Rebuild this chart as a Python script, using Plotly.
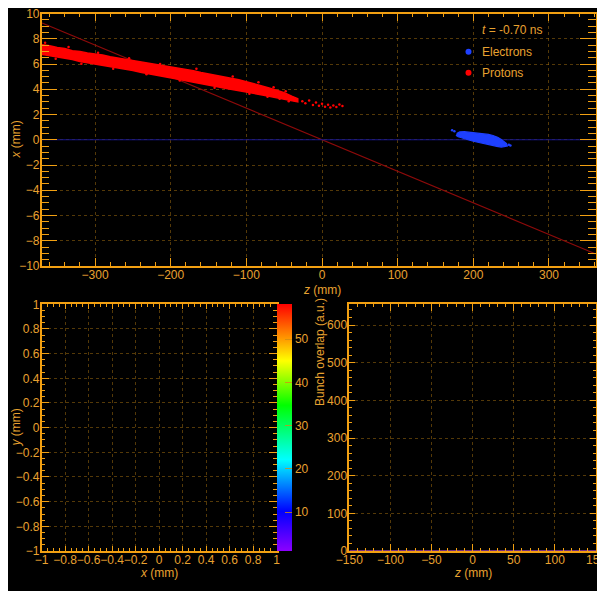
import plotly.graph_objects as go

# page is drawn with an 8 px body margin, so the figure is sized/offset for it
OFF = 8
FW, FH = 597, 583
FONT = "Liberation Sans, Arial, sans-serif"
AX = "#F2A012"
TXT = "#E8A230"
GRID = "rgba(200,135,20,0.42)"

# ---------------- top panel data (z in mm, x in mm) ----------------
proton_upper_z = [-372, -360, -350, -340, -330, -320, -310, -300, -290, -280, -270, -260, -250, -240,
                  -230, -220, -210, -200, -190, -180, -170, -160, -150, -140, -130, -120, -110, -100,
                  -90, -80, -70, -60, -50, -40, -32]
proton_upper_x = [7.55, 7.45, 7.30, 7.22, 7.05, 7.00, 6.88, 6.80, 6.72, 6.58, 6.48, 6.36, 6.30, 6.18,
                  6.05, 5.95, 5.86, 5.76, 5.66, 5.55, 5.46, 5.33, 5.22, 5.12, 5.00, 4.88, 4.76, 4.60,
                  4.45, 4.30, 4.10, 3.92, 3.72, 3.45, 3.25]
proton_lower_z = [-372, -360, -350, -340, -330, -320, -310, -300, -290, -280, -270, -260, -250, -240,
                  -230, -220, -210, -200, -190, -180, -170, -160, -150, -140, -130, -120, -110, -100,
                  -90, -80, -70, -60, -50, -40, -32]
proton_lower_x = [6.78, 6.65, 6.55, 6.45, 6.35, 6.20, 6.10, 5.95, 5.88, 5.75, 5.68, 5.58, 5.48, 5.35,
                  5.25, 5.12, 5.02, 4.90, 4.80, 4.68, 4.56, 4.45, 4.35, 4.22, 4.10, 3.98, 3.86, 3.76,
                  3.66, 3.55, 3.45, 3.32, 3.20, 3.08, 3.00]
proton_stray_z = [-366, -352, -335, -318, -296, -276, -255, -232, -214, -188, -166, -142, -118, -96,
                  -84, -72, -64, -56, -48, -44, -26, -22, -17, -12, -8, -4, 0, 4, 8, 11, 15, 19, 23, 27]
proton_stray_x = [7.68, 6.42, 7.35, 6.02, 6.90, 5.62, 6.45, 5.18, 6.00, 4.70, 5.62, 4.12, 5.00, 3.65,
                  4.55, 3.40, 4.15, 3.25, 3.85, 3.05, 3.05, 2.90, 3.10, 2.75, 2.95, 2.70, 2.85, 2.62,
                  2.78, 2.55, 2.72, 2.60, 2.80, 2.68]

electron_z = [178, 182, 188, 195, 204, 213, 220, 226, 232, 237, 241, 244, 245, 241, 237, 231, 225,
              219, 213, 206, 200, 193, 186, 180, 177]
electron_x = [0.50, 0.62, 0.64, 0.60, 0.56, 0.50, 0.42, 0.34, 0.20, 0.02, -0.14, -0.30, -0.50,
              -0.56, -0.58, -0.52, -0.45, -0.38, -0.30, -0.22, -0.12, 0.00, 0.12, 0.24, 0.36]
electron_stray_z = [172, 175, 247, 249]
electron_stray_x = [0.76, 0.68, -0.40, -0.46]

proton_axis_z = [-370, 362]
proton_axis_x = [9.25, -9.05]
electron_axis_z = [-370, 362]
electron_axis_x = [0.0, 0.0]

time_label = "<i>t</i> = -0.70 ns"

# ---------------- bottom panels ----------------
overlap_z = [-150, -100, -50, 0, 50, 100, 150]
overlap_val = [0, 0, 0, 0, 0, 0, 0]

cb_min, cb_max = 1.0, 58.1
cb_ticks = [10, 20, 30, 40, 50]
rainbow = [[0.0, "#8C00FF"], [0.16, "#0000FF"], [0.37, "#00FFFF"], [0.59, "#00FF00"],
           [0.77, "#FFFF00"], [0.86, "#FF9900"], [1.0, "#FF0000"]]


def px_x(p):
    return (p - OFF) / FW


def px_y(p):
    return 1 - (p - OFF) / FH


fig = go.Figure()

# beam axes
fig.add_trace(go.Scatter(x=proton_axis_z, y=proton_axis_x, mode="lines",
                         line=dict(color="#8E0A0A", width=1.2), xaxis="x", yaxis="y", hoverinfo="skip"))
fig.add_trace(go.Scatter(x=electron_axis_z, y=electron_axis_x, mode="lines",
                         line=dict(color="#16168C", width=1.2), xaxis="x", yaxis="y", hoverinfo="skip"))
# proton bunch
fig.add_trace(go.Scatter(x=proton_upper_z + proton_lower_z[::-1],
                         y=proton_upper_x + proton_lower_x[::-1],
                         mode="lines", fill="toself", fillcolor="#FF0000",
                         line=dict(color="#FF0000", width=1.5), xaxis="x", yaxis="y"))
fig.add_trace(go.Scatter(x=proton_stray_z, y=proton_stray_x, mode="markers",
                         marker=dict(color="#FF0000", size=2.5), xaxis="x", yaxis="y"))
# electron bunch
fig.add_trace(go.Scatter(x=electron_z, y=electron_x, mode="lines", fill="toself",
                         fillcolor="#1E40FF", line=dict(color="#1E40FF", width=1.2),
                         xaxis="x", yaxis="y"))
fig.add_trace(go.Scatter(x=electron_stray_z, y=electron_stray_x, mode="markers",
                         marker=dict(color="#1E40FF", size=2.5), xaxis="x", yaxis="y"))

# empty transverse map with colour scale
fig.add_trace(go.Scatter(x=[None], y=[None], mode="markers", xaxis="x2", yaxis="y2",
                         marker=dict(color=[cb_min], cmin=cb_min, cmax=cb_max, colorscale=rainbow,
                                     showscale=True,
                                     colorbar=dict(x=px_x(277.3), xanchor="left", y=px_y(551),
                                                   yanchor="bottom", len=(551 - 304.3) / FH,
                                                   lenmode="fraction", thickness=14.7,
                                                   thicknessmode="pixels", outlinewidth=0,
                                                   xpad=0, ypad=0, ticks="inside", ticklen=7,
                                                   tickcolor="rgba(210,140,20,0.8)", tickwidth=1,
                                                   tickvals=cb_ticks,
                                                   tickfont=dict(family=FONT, size=12, color=TXT)))))

# bunch overlap curve
fig.add_trace(go.Scatter(x=overlap_z, y=overlap_val, mode="lines", xaxis="x3", yaxis="y3",
                         line=dict(color="#9A3FA8", width=1.5)))


def axis(domain, rng, dtick, minor_dtick, ticklen, minor_len, anchor, standoff):
    return dict(domain=domain, range=rng, anchor=anchor, dtick=dtick, tick0=0,
                showline=True, linecolor=AX, linewidth=1.5, mirror="ticks",
                ticks="inside", ticklen=ticklen, tickwidth=1, tickcolor=AX,
                showgrid=True, gridcolor=GRID, griddash="dot", gridwidth=1,
                zeroline=False, tickangle=0, automargin=False, ticklabelstandoff=standoff,
                ticklabeloverflow="allow",
                tickfont=dict(family=FONT, size=12, color=TXT),
                minor=dict(dtick=minor_dtick, ticks="inside", ticklen=minor_len, tickcolor=AX,
                           tickwidth=1, showgrid=False),
                fixedrange=True)


top_x = [px_x(41.7), px_x(595.5)]
top_y = [px_y(266), px_y(13.5)]
bl_x = [px_x(41.7), px_x(276.7)]
b_y = [px_y(551), px_y(304.3)]
br_x = [px_x(349.3), px_x(596)]

layout = dict(
    width=FW, height=FH, margin=dict(l=0, r=0, t=0, b=0, pad=0, autoexpand=False),
    paper_bgcolor="white", plot_bgcolor="black", showlegend=False,
    font=dict(family=FONT, size=12, color=TXT),
    xaxis=axis(top_x, [-370.5, 361.5], 100, 20, 8, 4, "y", -3),
    yaxis=axis(top_y, [-10, 10], 2, 0.5, 16, 8, "x", -2),
    xaxis2=axis(bl_x, [-1, 1], 0.2, 0.05, 5, 3, "y2", -3),
    yaxis2=axis(b_y, [-1, 1], 0.2, 0.05, 8, 4, "x2", -2),
    xaxis3=axis(br_x, [-150, 150], 50, 10, 7, 3, "y3", -3),
    yaxis3=axis(b_y, [0, 655], 100, 20, 6, 3, "x3", -2),
)
fig.update_layout(**layout)

# black canvas
fig.add_shape(type="rect", xref="paper", yref="paper", x0=0, x1=px_x(602),
              y0=px_y(595), y1=1, fillcolor="black", line=dict(width=0), layer="below")

annos = [
    dict(text="<i>z</i> (mm)", x=px_x(321.7), y=px_y(290), textangle=0),
    dict(text="<i>x</i> (mm)", x=px_x(15), y=px_y(139.5), textangle=-90),
    dict(text="<i>x</i> (mm)", x=px_x(159.2), y=px_y(573), textangle=0),
    dict(text="<i>y</i> (mm)", x=px_x(15), y=px_y(427.5), textangle=-90),
    dict(text="<i>z</i> (mm)", x=px_x(472.6), y=px_y(573), textangle=0),
    dict(text="Bunch overlap (a.u.)", x=px_x(320), y=px_y(352), textangle=-90),
]
for a in annos:
    fig.add_annotation(xref="paper", yref="paper", xanchor="center", yanchor="middle",
                       showarrow=False, font=dict(family=FONT, size=12, color=TXT), **a)

# legend block
fig.add_annotation(xref="paper", yref="paper", x=px_x(480), y=px_y(30), xanchor="left",
                   yanchor="middle", showarrow=False, text=time_label,
                   font=dict(family=FONT, size=12, color=TXT))
for label, colr, ypix in [("Electrons", "#1E40FF", 51.7), ("Protons", "#FF0000", 72.7)]:
    fig.add_annotation(xref="paper", yref="paper", x=px_x(480), y=px_y(ypix), xanchor="left",
                       yanchor="middle", showarrow=False, text=label,
                       font=dict(family=FONT, size=12, color=TXT))
    fig.add_shape(type="circle", xref="paper", yref="paper", xsizemode="pixel",
                  ysizemode="pixel", xanchor=px_x(468.5), yanchor=px_y(ypix),
                  x0=-3, x1=3, y0=-3, y1=3, fillcolor=colr, line=dict(width=0))

fig.write_html("out.html")
